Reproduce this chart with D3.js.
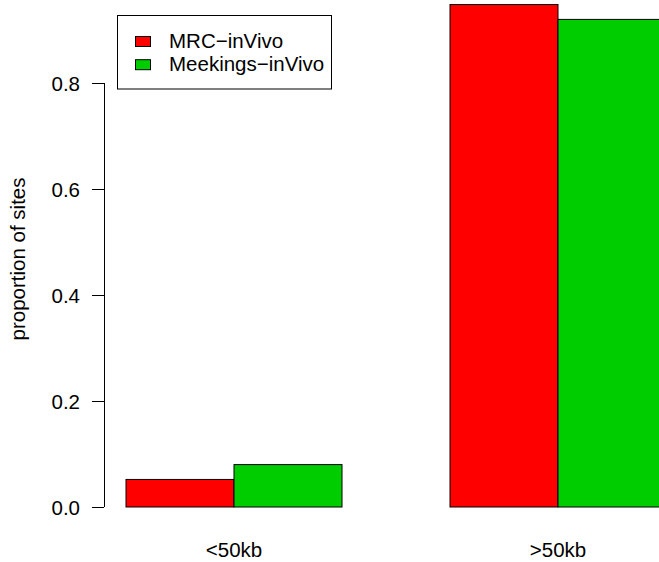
<!DOCTYPE html>
<html>
<head>
<meta charset="utf-8">
<script src="https://cdn.jsdelivr.net/npm/d3@7"></script>
<style>
  html, body { margin: 0; padding: 0; background: #fff; }
  svg { display: block; }
  text { font-family: "Liberation Sans", Arial, Helvetica, sans-serif; }
</style>
</head>
<body>
<svg id="chart" width="659" height="562"></svg>
<script>
// ---- data ----
const categories = ["<50kb", ">50kb"];
const seriesNames = ["MRC\u2212inVivo", "Meekings\u2212inVivo"];
const mrcValues = [0.052, 0.948];
const meekingsValues = [0.080, 0.920];
const seriesColors = ["#FF0000", "#00CD00"];
const yTicks = [0, 0.2, 0.4, 0.6, 0.8];
const yLabel = "proportion of sites";

const seriesValues = [mrcValues, meekingsValues];

const W = 659, H = 562;
const svg = d3.select("#chart");
const fontSize = 20.5;

// R-style barplot coordinates: bars of width 1, group gap 1, usr x [0.8, 6.2]
const x = d3.scaleLinear().domain([0.8, 6.2]).range([104.4, 687.6]);
const y = d3.scaleLinear().domain([0, 0.8]).range([507, 83]);

const bars = [];
categories.forEach((c, g) => {
  seriesValues.forEach((vals, s) => {
    const left = 1 + g * 3 + s;
    bars.push({ left, right: left + 1, value: vals[g], color: seriesColors[s] });
  });
});

svg.append("g").selectAll("rect").data(bars).join("rect")
  .attr("x", d => x(d.left))
  .attr("width", d => x(d.right) - x(d.left))
  .attr("y", d => y(d.value))
  .attr("height", d => y(0) - y(d.value))
  .attr("fill", d => d.color)
  .attr("stroke", "#000")
  .attr("stroke-width", 1);

// y axis
const yAxis = d3.axisLeft(y).tickValues(yTicks).tickFormat(d3.format(".1f")).tickSize(12).tickPadding(12);
const ga = svg.append("g").attr("transform", "translate(104,0)").call(yAxis);
ga.select(".domain").attr("d", `M-12,${y(0)}H0.5V${y(0.8)}H-12`).attr("stroke", "#000");
ga.selectAll(".tick line").attr("stroke", "#000");
ga.select(".domain").attr("d", `M0.5,${y(0)}V${y(0.8)}`);
ga.selectAll(".tick text")
  .attr("font-size", fontSize)
  .attr("font-family", "Liberation Sans, Arial, sans-serif")
  .attr("fill", "#000")
  .attr("dy", "0.35em");

// y label
svg.append("text")
  .attr("transform", `translate(24.5,259) rotate(-90)`)
  .attr("text-anchor", "middle")
  .attr("font-size", fontSize)
  .attr("fill", "#000")
  .text(yLabel);

// category labels
svg.append("g").selectAll("text").data(categories).join("text")
  .attr("x", (d, g) => x(1 + g * 3 + 1))
  .attr("y", 557)
  .attr("text-anchor", "middle")
  .attr("font-size", fontSize)
  .attr("fill", "#000")
  .text(d => d);

// legend
const lg = svg.append("g");
lg.append("rect")
  .attr("x", 117.5).attr("y", 15.5).attr("width", 214).attr("height", 73.5)
  .attr("fill", "#fff").attr("stroke", "#000").attr("stroke-width", 1);
const rows = lg.selectAll("g.row").data(seriesNames).join("g").attr("class", "row")
  .attr("transform", (d, i) => `translate(0,${i * 23.2})`);
rows.append("rect")
  .attr("x", 135.5).attr("y", 36.5).attr("width", 15).attr("height", 10)
  .attr("fill", (d, i) => seriesColors[i]).attr("stroke", "#000").attr("stroke-width", 1);
rows.append("text")
  .attr("x", 169).attr("y", 47.5)
  .attr("font-size", fontSize)
  .attr("fill", "#000")
  .text(d => d);
</script>
</body>
</html>
